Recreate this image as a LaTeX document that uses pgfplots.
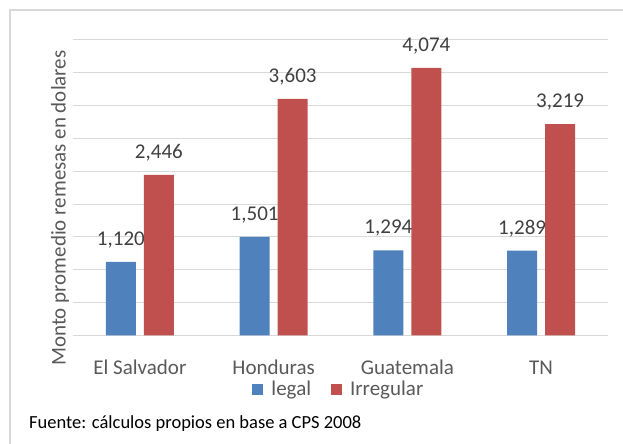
\documentclass[border=0pt]{standalone}
\usepackage{pgfplots}
\pgfplotsset{compat=1.18}
\usepackage{fontspec}
\setmainfont{Carlito}
\definecolor{cblue}{HTML}{4F81BD}
\definecolor{cred}{HTML}{C0504D}
\definecolor{gridc}{HTML}{D9D9D9}
\definecolor{lab}{HTML}{595959}
\definecolor{dlab}{HTML}{404040}
\begin{document}
\begin{tikzpicture}[x=1bp,y=1bp]
\draw[gridc, line width=1.5bp] (10,0) -- (10,434) -- (623,434);
\begin{axis}[
 at={(73bp,108.7bp)}, anchor=south west,
 scale only axis, width=535bp, height=295.3bp,
 xmin=-0.5, xmax=3.5, ymin=0, ymax=4500,
 ybar, bar width=30bp,
 xtick={0,1,2,3}, xticklabels={El Salvador,Honduras,Guatemala,TN},
 ytick={0,500,...,4500}, yticklabels={},
 ymajorgrids, major grid style={draw=gridc, line width=1bp},
 axis line style={draw=none}, tick style={draw=none},
 xticklabel style={anchor=center, yshift=-28bp, text=lab, font=\fontsize{21bp}{25bp}\selectfont},
 ylabel={Monto promedio remesas en dolares},
 every axis y label/.style={at={(rel axis cs:-0.0243,0.431)}, rotate=90, anchor=center, text=lab, font=\fontsize{21bp}{25bp}\selectfont},
 nodes near coords,
 point meta=y,
 /pgf/number format/1000 sep={,},
 /pgf/number format/assume math mode=true,
 every node near coord/.append style={anchor=center, yshift=22bp, text=dlab, font=\fontsize{21bp}{25bp}\selectfont},
 legend style={at={(rel axis cs:0.497,-0.183)}, anchor=center, draw=none, fill=none, legend columns=2, font=\fontsize{21bp}{25bp}\selectfont, text=lab,
   /tikz/every odd column/.append style={column sep=6bp},
   /tikz/every even column/.append style={column sep=18bp}},
 legend image code/.code={\fill[#1] (0bp,-5.5bp) rectangle (11bp,5.5bp);},
]
\addplot[fill=cblue, draw=none, bar shift=-19bp] coordinates {(0,1120) (1,1501) (2,1294) (3,1289)};
\addplot[fill=cred, draw=none, bar shift=19bp] coordinates {(0,2446) (1,3603) (2,4074) (3,3219)};
\legend{legal,Irregular}
\end{axis}
\node[anchor=west, inner sep=0pt, font=\fontsize{18.5bp}{22bp}\selectfont] at (29,20) {Fuente: cálculos propios en base a CPS 2008};
\pgfresetboundingbox
\path (0,0) rectangle (623,444);
\end{tikzpicture}
\end{document}
